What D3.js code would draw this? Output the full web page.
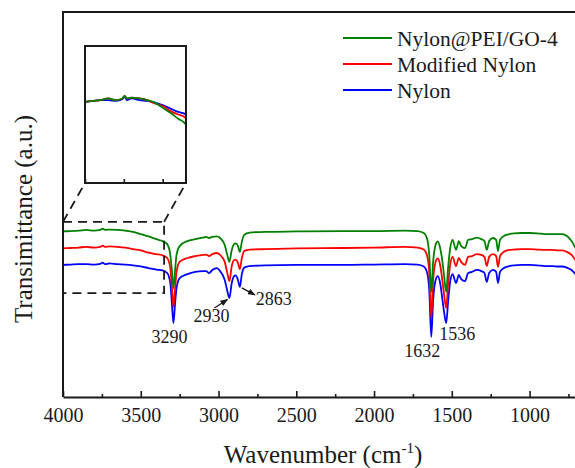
<!DOCTYPE html>
<html>
<head>
<meta charset="utf-8">
<script src="https://cdnjs.cloudflare.com/ajax/libs/d3/7.8.5/d3.min.js"></script>
<style>
	body { margin: 0; background: #fff; }
	svg { display: block; font-family: 'Liberation Serif', 'Times New Roman', serif; }
	text { font-family: 'Liberation Serif', 'Times New Roman', serif; fill: #1a1a1a; }
</style>
</head>
<body>
<div id="container"></div>
<script>
// wavenumber grid (cm-1), shared by the three spectra
const wavenumbers = [4000, 3950, 3900, 3850, 3800, 3760, 3745, 3730, 3700, 3650, 3600, 3550, 3500, 3450, 3400, 3360, 3330,
	3310, 3300, 3290, 3280, 3270, 3250, 3200,
	3150, 3100, 3080, 3060, 3040, 3010, 2990,
	2960, 2945, 2930, 2915, 2900, 2890, 2875, 2863, 2850, 2835, 2800, 2700,
	2500, 2200, 2000, 1800, 1720, 1680, 1660, 1645, 1632, 1620,
	1600, 1590, 1575, 1560, 1548, 1536, 1524, 1510, 1495,
	1473, 1455, 1440, 1415, 1395, 1370, 1340, 1310, 1290, 1275,
	1260, 1235, 1215, 1203, 1190, 1165, 1130, 1100, 1050, 1000,
	950, 900, 850, 820, 790, 760, 730, 700, 650];

// transmittance (a.u.)
const nylonPeiGo = [43.0, 43.1, 43.2, 43.4, 43.2, 43.4, 43.7, 43.4, 43.5, 43.4, 43.2, 42.9, 42.3, 41.7, 41.0, 40.5, 39.7,
	36.9, 33.0, 28.3, 32.5, 36.9, 39.2, 40.5,
	41.0, 41.4, 41.6, 41.3, 41.6, 41.7, 41.3,
	39.5, 37.1, 35.1, 38.2, 39.7, 39.9, 39.2, 37.7, 40.3, 42.1, 42.7, 42.9,
	43.0, 43.1, 43.1, 43.2, 43.1, 42.6, 41.3, 36.9, 27.3, 35.1,
	40.0, 40.4, 38.7, 35.1, 30.9, 27.3, 33.5, 38.7, 40.8,
	38.2, 40.5, 39.2, 38.7, 40.8, 41.0, 41.4, 41.0, 40.5, 38.2,
	40.5, 41.3, 40.8, 37.9, 40.8, 41.8, 42.3, 42.5, 42.6, 42.6,
	42.5, 42.3, 42.3, 42.3, 42.3, 41.8, 40.5, 38.4, 36.1];

const modifiedNylon = [38.6, 38.7, 38.8, 39.0, 38.8, 39.0, 39.3, 39.0, 39.1, 39.0, 38.8, 38.4, 38.1, 37.5, 37.1, 36.8, 36.1,
	33.5, 28.6, 23.4, 27.8, 32.5, 35.1, 36.1,
	36.6, 36.9, 37.0, 36.6, 37.1, 37.4, 36.9,
	35.1, 32.5, 30.1, 34.0, 35.6, 35.7, 34.8, 33.2, 36.1, 37.9, 38.3, 38.4,
	38.6, 38.7, 38.8, 39.0, 38.8, 38.3, 36.9, 32.5, 20.5, 30.4,
	35.6, 36.0, 34.3, 30.1, 26.0, 23.1, 29.1, 34.5, 36.4,
	34.0, 36.1, 35.1, 34.3, 36.4, 36.6, 37.1, 36.9, 36.4, 34.0,
	36.4, 37.1, 36.6, 33.8, 36.6, 37.7, 38.2, 38.3, 38.4, 38.4,
	38.3, 38.2, 38.2, 38.1, 38.1, 37.7, 36.9, 35.3, 33.0];

const nylon = [34.3, 34.4, 34.5, 34.5, 34.4, 34.6, 34.9, 34.5, 34.7, 34.5, 34.4, 34.2, 33.9, 33.5, 33.1, 32.9, 32.2,
	29.6, 24.4, 19.2, 23.9, 28.3, 30.9, 31.9,
	32.5, 32.7, 32.7, 32.2, 33.0, 33.5, 32.7,
	30.4, 27.8, 25.7, 29.6, 31.4, 31.6, 30.4, 28.6, 31.9, 33.6, 34.0, 34.2,
	34.3, 34.3, 34.4, 34.5, 34.4, 33.9, 32.5, 27.8, 15.6, 25.2,
	30.9, 31.4, 29.6, 25.2, 21.6, 19.2, 24.7, 30.1, 31.9,
	29.6, 31.7, 30.6, 30.1, 32.2, 32.5, 33.0, 32.7, 32.2, 29.9,
	32.2, 33.0, 32.5, 29.6, 32.5, 33.5, 34.0, 34.2, 34.3, 34.3,
	34.2, 34.0, 34.0, 33.9, 33.9, 33.6, 33.0, 31.7, 29.6];

const seriesNames = ['Nylon', 'Modified Nylon', 'Nylon@PEI/GO-4'];
const seriesColors = ['#0000ff', '#ff0000', '#008000'];

const peakLabels = [3290, 2930, 2863, 1632, 1536];
const majorTicks = [4000, 3500, 3000, 2500, 2000, 1500, 1000];
const minorTicks = [3750, 3250, 2750, 2250, 1750, 1250, 750];
const insetTicks = [4000, 3750, 3500];
const zoomWave = [4000, 3350];
const zoomLevel = [27, 45.5];

window.onload = function () {
	'use strict';
	let options = {
		width: 575,
		height: 468,
		left: 63,
		right: 584,
		top: 12,
		bottom: 397
	};
	let inset = { left: 85, right: 186, top: 46, bottom: 183 };
	let serif = "'Liberation Serif', 'Times New Roman', serif";

	let svg = d3.select('#container')
		.append('svg')
		.attr('width', options.width)
		.attr('height', options.height);

	let x = d3.scaleLinear().domain([4000, 650]).range([options.left, options.right]);
	let y = d3.scaleLinear().domain([0, 100]).range([options.bottom, options.top]);

	let series = [nylon, modifiedNylon, nylonPeiGo].map((vals, i) => ({
		name: seriesNames[i],
		color: seriesColors[i],
		points: wavenumbers.map((w, j) => ({ w: w, t: vals[j] }))
	}));

	let defs = svg.append('defs');
	defs.append('clipPath').attr('id', 'plotClip')
		.append('rect')
		.attr('x', options.left).attr('y', options.top)
		.attr('width', options.right - options.left)
		.attr('height', options.bottom - options.top);
	defs.append('clipPath').attr('id', 'insetClip')
		.append('rect')
		.attr('x', inset.left).attr('y', inset.top)
		.attr('width', inset.right - inset.left)
		.attr('height', inset.bottom - inset.top);
	defs.append('marker')
		.attr('id', 'arrow')
		.attr('markerUnits', 'userSpaceOnUse')
		.attr('markerWidth', 8).attr('markerHeight', 6)
		.attr('refX', 7).attr('refY', 3)
		.attr('orient', 'auto')
		.append('path')
		.attr('d', 'M0,0 L8,3 L0,6 Z')
		.attr('fill', '#1a1a1a');

	// spectra
	let line = d3.line()
		.x(d => x(d.w))
		.y(d => y(d.t))
		.curve(d3.curveMonotoneX);

	svg.append('g')
		.attr('clip-path', 'url(#plotClip)')
		.selectAll('path')
		.data(series)
		.enter()
		.append('path')
		.attr('d', d => line(d.points))
		.attr('fill', 'none')
		.attr('stroke', d => d.color)
		.attr('stroke-width', 1.8)
		.attr('stroke-linejoin', 'round');

	// frame + axis
	svg.append('path')
		.attr('d', 'M' + options.left + ',' + options.bottom + 'V' + options.top + 'H' + options.right)
		.attr('fill', 'none')
		.attr('stroke', '#1a1a1a')
		.attr('stroke-width', 2);

	let xAxis = svg.append('g')
		.attr('transform', 'translate(0,' + options.bottom + ')')
		.call(d3.axisBottom(x).tickValues(majorTicks).tickSize(-6).tickSizeOuter(0).tickPadding(11).tickFormat(d3.format('d')));
	xAxis.attr('font-family', serif);
	xAxis.select('.domain').attr('stroke', '#1a1a1a').attr('stroke-width', 2);
	xAxis.selectAll('.tick line').attr('stroke', '#1a1a1a').attr('stroke-width', 1.6);
	xAxis.selectAll('.tick text')
		.attr('font-size', 20)
		.attr('fill', '#1a1a1a');

	let xMinor = svg.append('g')
		.attr('transform', 'translate(0,' + options.bottom + ')')
		.call(d3.axisBottom(x).tickValues(minorTicks).tickSize(-3).tickSizeOuter(0).tickFormat(''));
	xMinor.select('.domain').remove();
	xMinor.selectAll('.tick line').attr('stroke', '#1a1a1a').attr('stroke-width', 1.6);

	svg.append('text')
		.attr('x', 323)
		.attr('y', 463)
		.attr('text-anchor', 'middle')
		.attr('font-size', 25)
		.call(t => {
			t.append('tspan').text('Wavenumber (cm');
			t.append('tspan').attr('font-size', 15).attr('dy', -10).text('-1');
			t.append('tspan').attr('dy', 10).text(')');
		});

	svg.append('text')
		.attr('transform', 'rotate(-90)')
		.attr('x', -219)
		.attr('y', 32)
		.attr('text-anchor', 'middle')
		.attr('font-size', 25)
		.text('Transimittance (a.u.)');

	// dashed zoom window and connectors
	let dashed = svg.append('g')
		.attr('fill', 'none')
		.attr('stroke', '#1a1a1a')
		.attr('stroke-width', 1.8)
		.attr('stroke-dasharray', '9,6');
	dashed.append('path')
		.attr('d', 'M' + x(zoomWave[0]) + ',' + y(zoomLevel[1]) + 'H' + x(zoomWave[1]) +
			'V' + y(zoomLevel[0]) + 'H' + x(zoomWave[0]));
	dashed.append('line')
		.attr('x1', x(zoomWave[0])).attr('y1', y(zoomLevel[1]))
		.attr('x2', inset.left).attr('y2', inset.bottom);
	dashed.append('line')
		.attr('x1', x(zoomWave[1])).attr('y1', y(zoomLevel[1]))
		.attr('x2', inset.right).attr('y2', inset.bottom);

	// inset: same spectra, each aligned to its value at 4000 cm-1
	let ix = d3.scaleLinear().domain(zoomWave).range([inset.left, inset.right]);
	let iy = d3.scaleLinear().domain([-9.6, 6.6]).range([inset.bottom, inset.top]);
	let insetLine = d3.line()
		.x(d => ix(d.w))
		.y(d => iy(d.t))
		.curve(d3.curveMonotoneX);

	svg.append('rect')
		.attr('x', inset.left).attr('y', inset.top)
		.attr('width', inset.right - inset.left)
		.attr('height', inset.bottom - inset.top)
		.attr('fill', '#fff');

	svg.append('g')
		.attr('clip-path', 'url(#insetClip)')
		.selectAll('path')
		.data(series)
		.enter()
		.append('path')
		.attr('d', d => {
			let base = d.points[0].t;
			let pts = d.points.filter(p => p.w >= 3300).map(p => ({ w: p.w, t: p.t - base }));
			return insetLine(pts);
		})
		.attr('fill', 'none')
		.attr('stroke', d => d.color)
		.attr('stroke-width', 1.8);

	svg.append('rect')
		.attr('x', inset.left).attr('y', inset.top)
		.attr('width', inset.right - inset.left)
		.attr('height', inset.bottom - inset.top)
		.attr('fill', 'none')
		.attr('stroke', '#1a1a1a')
		.attr('stroke-width', 2);

	let iAxis = svg.append('g')
		.attr('transform', 'translate(0,' + inset.bottom + ')')
		.call(d3.axisBottom(ix).tickValues(insetTicks).tickSize(-4).tickSizeOuter(0).tickFormat(''));
	iAxis.select('.domain').remove();
	iAxis.selectAll('.tick line').attr('stroke', '#1a1a1a').attr('stroke-width', 1.6);

	// peak labels
	let layout = {
		3290: { tx: -4, ty: 20, anchor: 'middle' },
		2930: { tx: -18, ty: 24, anchor: 'middle', arrow: [-15, 10, -2, 1.5] },
		2863: { tx: 16, ty: 18, anchor: 'start', arrow: [2, 1, 15, 8] },
		1632: { tx: -9, ty: 20, anchor: 'middle' },
		1536: { tx: 11, ty: 17, anchor: 'middle' }
	};
	peakLabels.forEach(w => {
		let i = wavenumbers.indexOf(w);
		let px = x(w);
		let py = y(nylon[i]);
		let l = layout[w];
		svg.append('text')
			.attr('x', px + l.tx)
			.attr('y', py + l.ty)
			.attr('text-anchor', l.anchor)
			.attr('font-size', 18)
			.text(w);
		if (l.arrow) {
			svg.append('line')
				.attr('x1', px + l.arrow[0]).attr('y1', py + l.arrow[1])
				.attr('x2', px + l.arrow[2]).attr('y2', py + l.arrow[3])
				.attr('stroke', '#1a1a1a')
				.attr('stroke-width', 1.3)
				.attr('marker-end', 'url(#arrow)');
		}
	});

	// legend
	let legendData = series.slice().reverse();
	let legend = svg.append('g')
		.selectAll('g')
		.data(legendData)
		.enter()
		.append('g')
		.attr('transform', (d, i) => 'translate(343,' + (38 + i * 26) + ')');
	legend.append('line')
		.attr('x1', 0).attr('x2', 49)
		.attr('stroke', d => d.color)
		.attr('stroke-width', 1.8);
	legend.append('text')
		.attr('x', 54)
		.attr('y', 7.5)
		.attr('font-size', 21.5)
		.text(d => d.name);
};
</script>
</body>
</html>
